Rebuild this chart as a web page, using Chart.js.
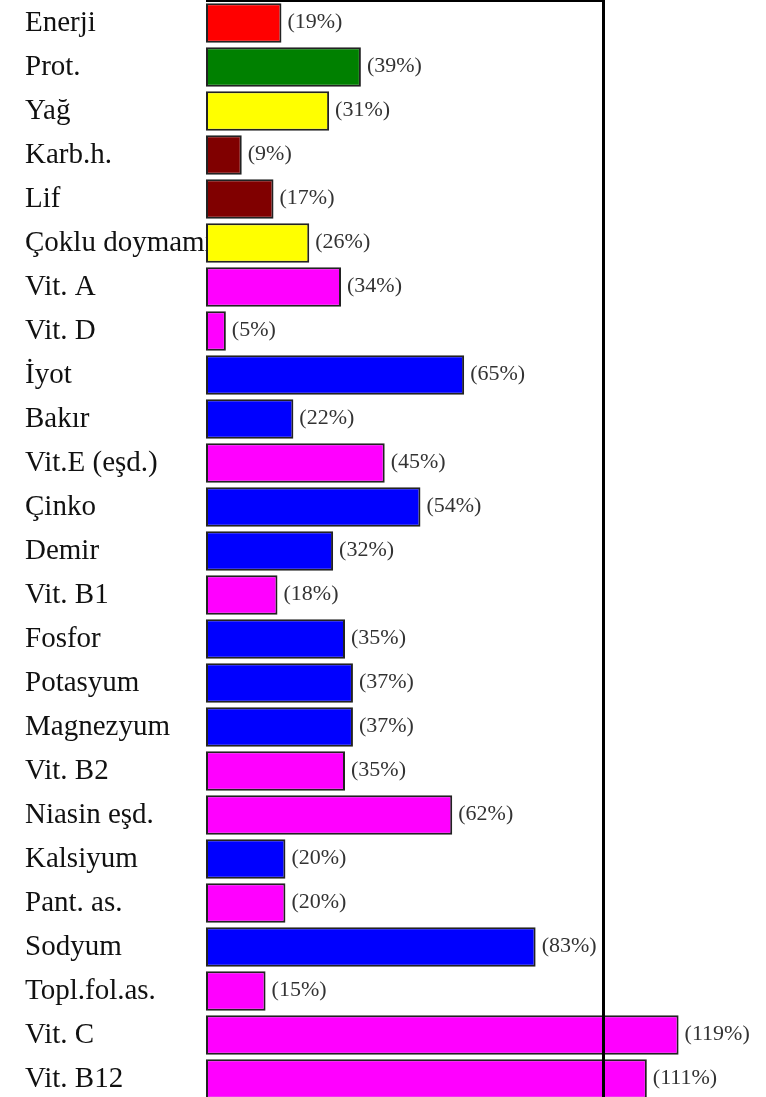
<!DOCTYPE html>
<html>
<head>
<meta charset="utf-8">
<script src="https://cdn.jsdelivr.net/npm/chart.js@4/dist/chart.umd.min.js"></script>
<style>
  html, body { margin: 0; padding: 0; background: #fff; overflow: hidden; }
  #wrap { width: 766px; height: 1097px; overflow: hidden; }
</style>
</head>
<body>
<div id="wrap"><canvas id="chart" width="766" height="1102"></canvas></div>
<script>
// nutrient names, top to bottom
const labels = [
  'Enerji', 'Prot.', 'Yağ', 'Karb.h.', 'Lif', 'Çoklu doymamış', 'Vit. A', 'Vit. D',
  'İyot', 'Bakır', 'Vit.E (eşd.)', 'Çinko', 'Demir', 'Vit. B1', 'Fosfor', 'Potasyum',
  'Magnezyum', 'Vit. B2', 'Niasin eşd.', 'Kalsiyum', 'Pant. as.', 'Sodyum',
  'Topl.fol.as.', 'Vit. C', 'Vit. B12'
];

// % of daily need
const percents = [19, 39, 31, 9, 17, 26, 34, 5, 65, 22, 45, 54, 32, 18, 35, 37, 37, 35, 62, 20, 20, 83, 15, 119, 111];

const barColors = [
  '#ff0000', '#008000', '#ffff00', '#800000', '#800000', '#ffff00', '#ff00ff', '#ff00ff',
  '#0000ff', '#0000ff', '#ff00ff', '#0000ff', '#0000ff', '#ff00ff', '#0000ff', '#0000ff',
  '#0000ff', '#ff00ff', '#ff00ff', '#0000ff', '#ff00ff', '#0000ff', '#ff00ff', '#ff00ff', '#ff00ff'
];

const refLine = 100;

// draws the 100% line, the top rule and the (x%) labels
const overlay = {
    id: 'overlay',
    afterDatasetsDraw(chart) {
        const ctx = chart.ctx;
        const x = chart.scales.x;
        const area = chart.chartArea;
        const xRef = Math.round(x.getPixelForValue(refLine)) + 0.5;

        ctx.save();
        ctx.strokeStyle = '#000';
        ctx.lineWidth = 2;
        ctx.beginPath();
        ctx.moveTo(area.left, 1);
        ctx.lineTo(xRef, 1);
        ctx.stroke();

        ctx.lineWidth = 3;
        ctx.beginPath();
        ctx.moveTo(xRef, 0);
        ctx.lineTo(xRef, chart.height);
        ctx.stroke();

        ctx.font = '22px "Liberation Serif", "Times New Roman", serif';
        ctx.fillStyle = '#333';
        ctx.textAlign = 'left';
        ctx.textBaseline = 'middle';
        chart.getDatasetMeta(0).data.forEach((bar, i) => {
            ctx.fillText('(' + percents[i] + '%)', bar.x + 6, bar.y - 1);
        });
        ctx.restore();
    }
};

new Chart(document.getElementById('chart'), {
    type: 'bar',
    data: {
        labels: labels,
        datasets: [{
            data: percents,
            backgroundColor: barColors,
            borderColor: '#222',
            borderWidth: 2,
            borderSkipped: false,
            barPercentage: 0.9,
            categoryPercentage: 1
        }]
    },
    options: {
        indexAxis: 'y',
        responsive: false,
        animation: false,
        layout: { padding: { left: 25, top: 1, bottom: 1, right: 4 } },
        scales: {
            x: { display: false, min: 0, max: 140 },
            y: {
                grid: { display: false },
                border: { display: false },
                ticks: {
                    crossAlign: 'far',
                    padding: 0,
                    color: '#111',
                    font: { family: '"Liberation Serif", "Times New Roman", serif', size: 29 }
                },
                afterFit(scale) {
                    scale.width = 181;
                    scale.paddingTop = 0;
                    scale.paddingBottom = 0;
                }
            }
        },
        plugins: {
            legend: { display: false },
            tooltip: { enabled: false }
        }
    },
    plugins: [overlay]
});
</script>
</body>
</html>
